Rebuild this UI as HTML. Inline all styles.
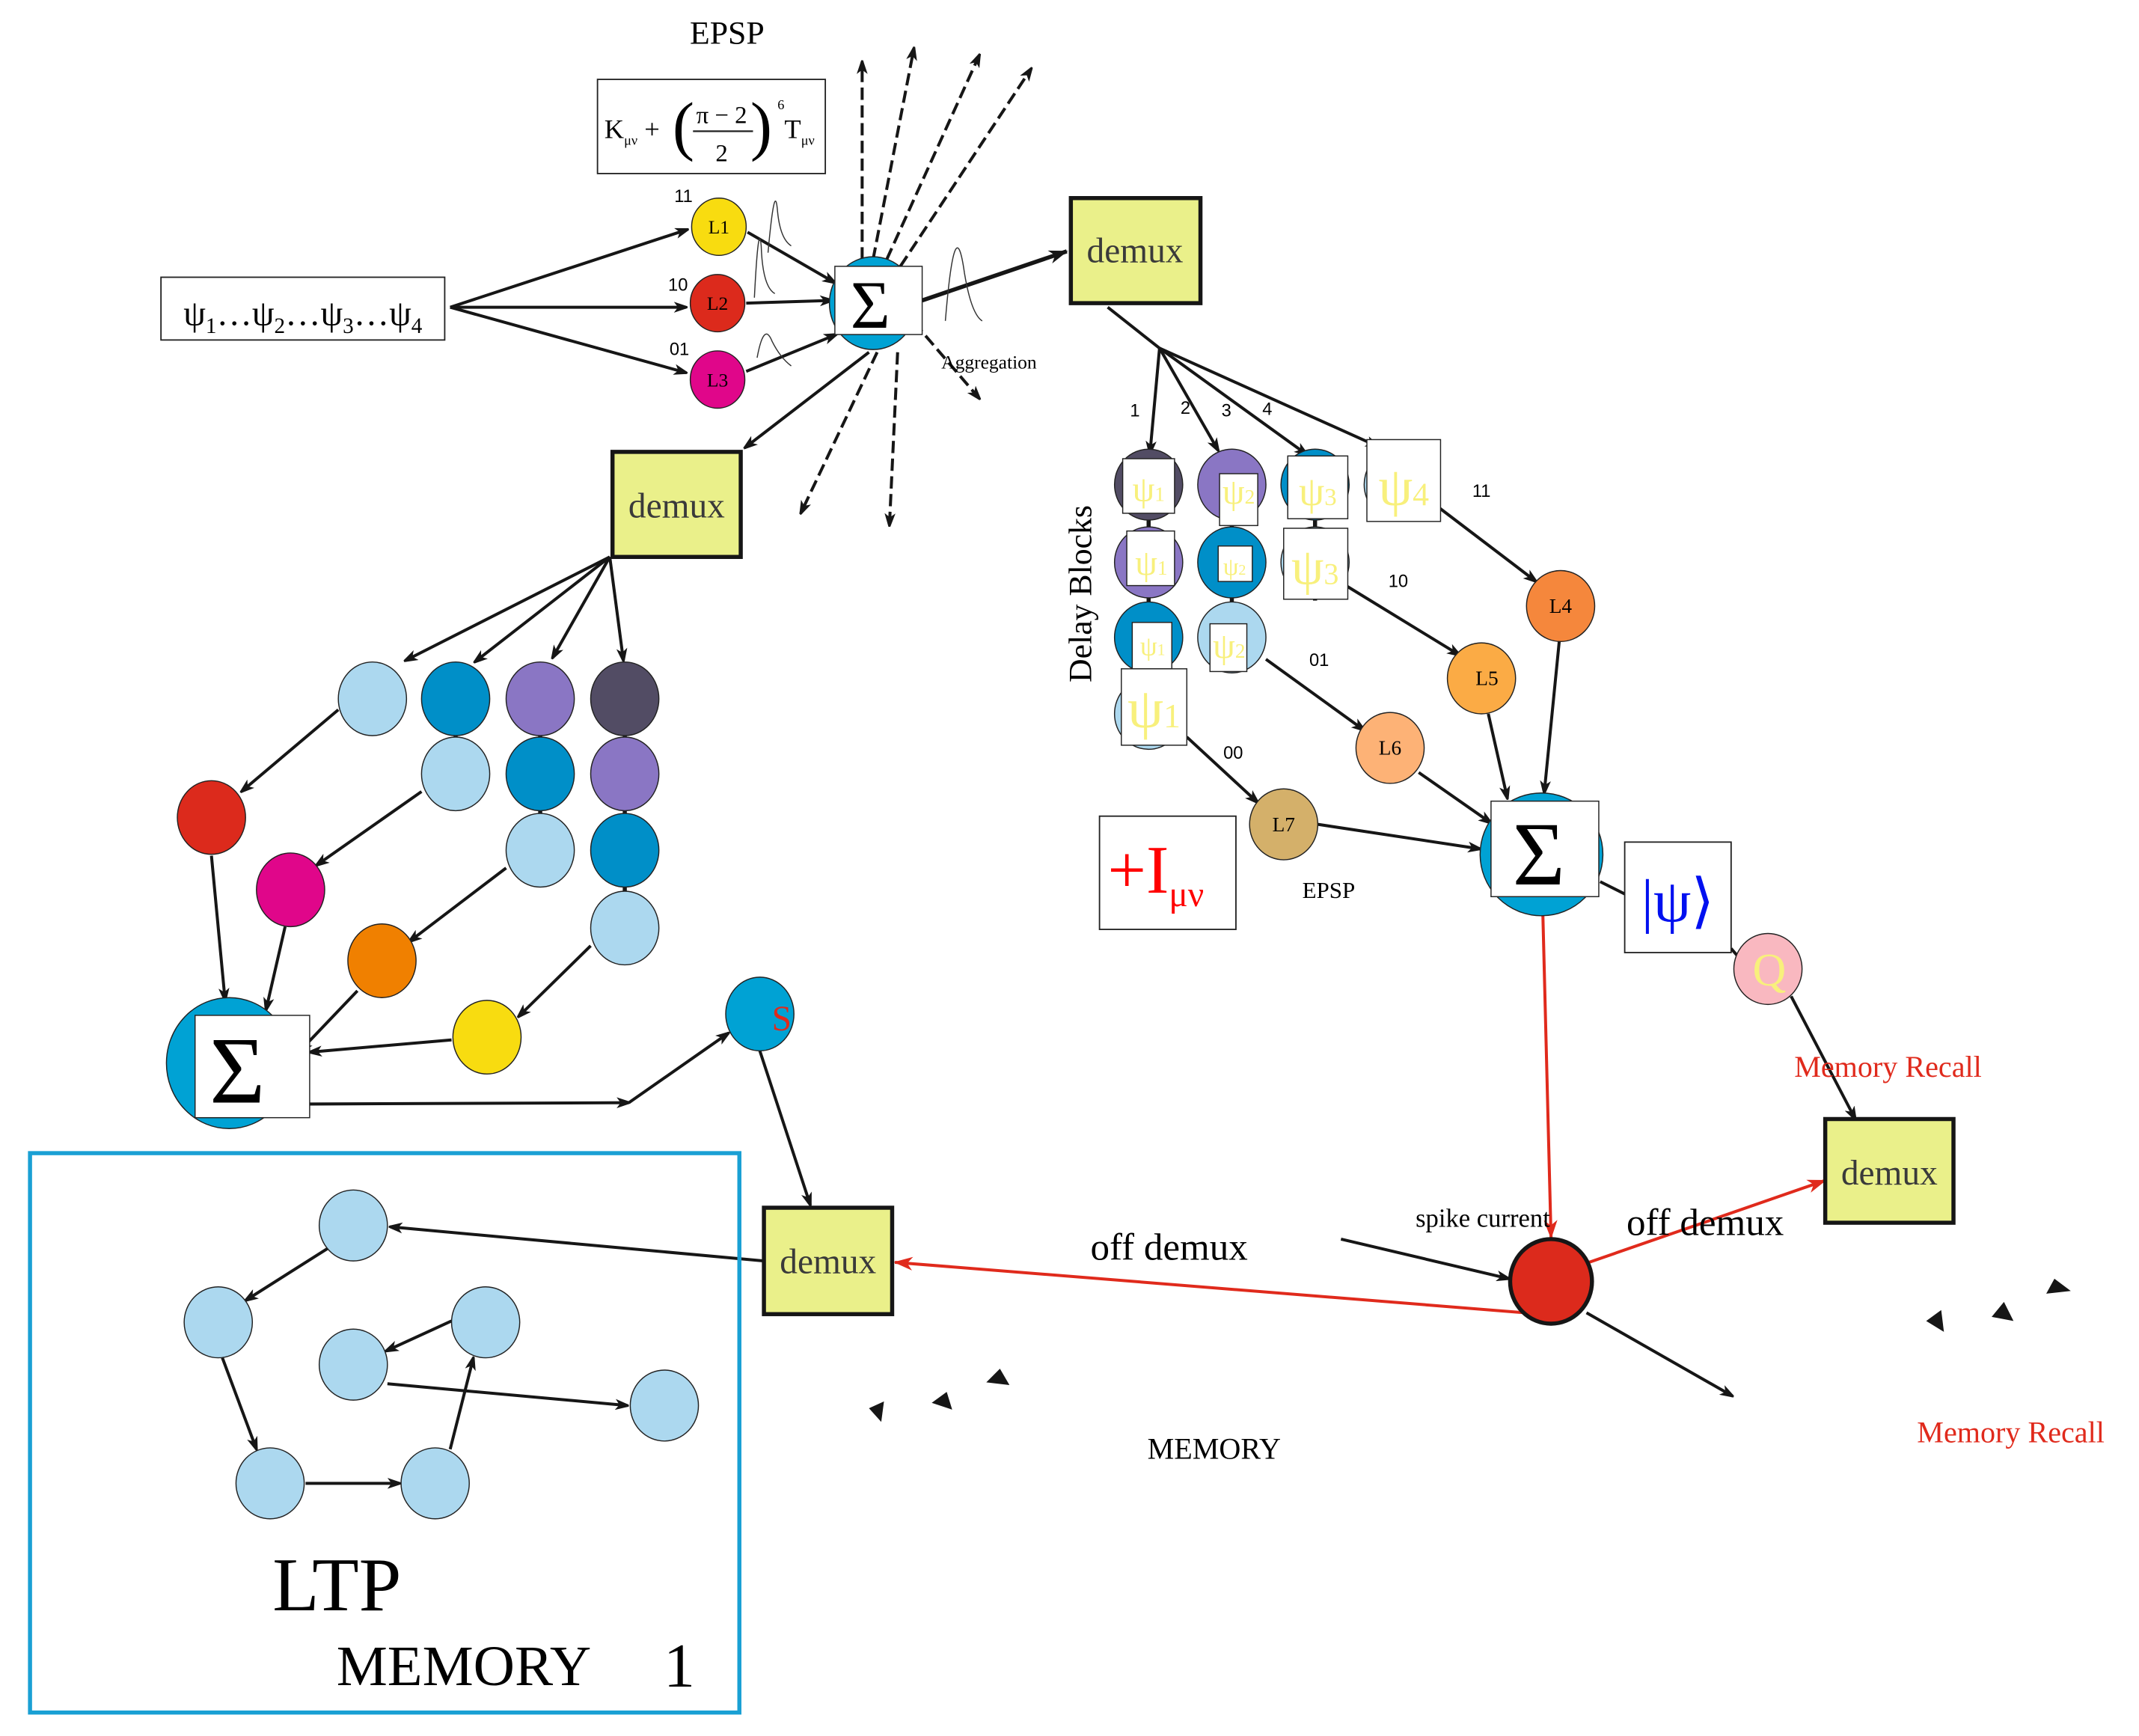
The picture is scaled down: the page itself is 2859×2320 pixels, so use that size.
<!DOCTYPE html>
<html><head><meta charset="utf-8"><style>
html,body{margin:0;padding:0;background:#fff}
svg{display:block}
text{font-family:"Liberation Serif",serif}
.s{font-family:"Liberation Sans",sans-serif}
</style></head><body>
<svg width="2859" height="2320" viewBox="0 0 1568 1272" xmlns="http://www.w3.org/2000/svg">
<defs>
<marker id="a" markerWidth="10" markerHeight="8" refX="9" refY="4" orient="auto" markerUnits="userSpaceOnUse"><path d="M0,0 L12,4 L0,8 L3,4z" fill="#161616"/></marker>
<marker id="b" markerWidth="14" markerHeight="10" refX="13" refY="5" orient="auto" markerUnits="userSpaceOnUse"><path d="M0,0 L14,5 L0,10 L4,5z" fill="#161616"/></marker>
<marker id="r" markerWidth="14" markerHeight="10" refX="13" refY="5" orient="auto" markerUnits="userSpaceOnUse"><path d="M0,0 L14,5 L0,10 L4,5z" fill="#e02a1c"/></marker>
</defs>
<g stroke="#161616" stroke-width="2.2" fill="none">
<line x1="330" y1="225" x2="504" y2="168" marker-end="url(#a)"/>
<line x1="330" y1="225" x2="503" y2="225" marker-end="url(#a)"/>
<line x1="330" y1="225" x2="503" y2="273" marker-end="url(#a)"/>
<line x1="548" y1="170" x2="612" y2="207" marker-end="url(#a)"/>
<line x1="547" y1="222" x2="610" y2="220" marker-end="url(#a)"/>
<line x1="547" y1="272" x2="613" y2="245" marker-end="url(#a)"/>
<g stroke-dasharray="9,4">
<line x1="632" y1="190" x2="632" y2="45" marker-end="url(#a)"/>
<line x1="640" y1="190" x2="670" y2="35" marker-end="url(#a)"/>
<line x1="650" y1="190" x2="718" y2="40" marker-end="url(#a)"/>
<line x1="660" y1="195" x2="756" y2="50" marker-end="url(#a)"/>
<line x1="670" y1="236" x2="718" y2="292" marker-end="url(#a)"/>
<line x1="643" y1="258" x2="587" y2="376" marker-end="url(#a)"/>
<line x1="658" y1="258" x2="652" y2="385" marker-end="url(#a)"/>
</g>
<line x1="676" y1="220" x2="782" y2="184" marker-end="url(#b)" stroke-width="3"/>
<line x1="637" y1="258" x2="546" y2="328" marker-end="url(#a)"/>
<line x1="812" y1="225" x2="850" y2="255"/>
<line x1="850" y1="255" x2="843" y2="332" marker-end="url(#a)"/>
<line x1="850" y1="255" x2="893" y2="330" marker-end="url(#a)"/>
<line x1="850" y1="255" x2="958" y2="333" marker-end="url(#a)"/>
<line x1="850" y1="255" x2="1010" y2="327" marker-end="url(#a)"/>
<line x1="1055" y1="372" x2="1126" y2="426" marker-end="url(#a)"/>
<line x1="985" y1="428" x2="1070" y2="480" marker-end="url(#a)"/>
<line x1="928" y1="483" x2="1000" y2="535" marker-end="url(#a)"/>
<line x1="870" y1="540" x2="922" y2="588" marker-end="url(#a)"/>
<line x1="1143" y1="470" x2="1132" y2="581" marker-end="url(#a)"/>
<line x1="1091" y1="523" x2="1105" y2="585" marker-end="url(#a)"/>
<line x1="1040" y1="566" x2="1093" y2="603" marker-end="url(#a)"/>
<line x1="966" y1="604" x2="1085" y2="622" marker-end="url(#a)"/>
<line x1="1173" y1="646" x2="1191" y2="655"/>
<line x1="1269" y1="695" x2="1275" y2="702"/>
<line x1="1313" y1="730" x2="1360" y2="820" marker-end="url(#a)"/>
<line x1="447" y1="408" x2="297" y2="484" marker-end="url(#a)"/>
<line x1="447" y1="408" x2="348" y2="485" marker-end="url(#a)"/>
<line x1="447" y1="408" x2="405" y2="482" marker-end="url(#a)"/>
<line x1="447" y1="408" x2="457" y2="484" marker-end="url(#a)"/>
<line x1="248" y1="520" x2="177" y2="580" marker-end="url(#a)"/>
<line x1="309" y1="580" x2="232" y2="634" marker-end="url(#a)"/>
<line x1="371" y1="636" x2="300" y2="690" marker-end="url(#a)"/>
<line x1="433" y1="693" x2="380" y2="745" marker-end="url(#a)"/>
<line x1="155" y1="627" x2="165" y2="733" marker-end="url(#a)"/>
<line x1="209" y1="679" x2="195" y2="740" marker-end="url(#a)"/>
<line x1="262" y1="726" x2="220" y2="770" marker-end="url(#a)"/>
<line x1="331" y1="762" x2="227" y2="771" marker-end="url(#a)"/>
<line x1="227" y1="809" x2="461" y2="808" marker-end="url(#a)"/>
<line x1="461" y1="808" x2="534" y2="757" marker-end="url(#a)"/>
<line x1="557" y1="770" x2="594" y2="883" marker-end="url(#a)"/>
<line x1="560" y1="924" x2="286" y2="899" marker-end="url(#a)"/>
<line x1="240" y1="915" x2="180" y2="953" marker-end="url(#a)"/>
<line x1="163" y1="995" x2="188" y2="1062" marker-end="url(#a)"/>
<line x1="224" y1="1087" x2="293" y2="1087" marker-end="url(#a)"/>
<line x1="330" y1="1062" x2="347" y2="995" marker-end="url(#a)"/>
<line x1="331" y1="968" x2="283" y2="990" marker-end="url(#a)"/>
<line x1="284" y1="1014" x2="460" y2="1030" marker-end="url(#a)"/>
<line x1="983" y1="908" x2="1106" y2="937" marker-end="url(#a)"/>
<line x1="1163" y1="962" x2="1270" y2="1023" marker-end="url(#a)"/>
</g>
<g stroke="#e02a1c" stroke-width="2.2" fill="none">
<line x1="1131" y1="670" x2="1137" y2="907" marker-end="url(#r)"/>
<line x1="1162" y1="926" x2="1338" y2="865" marker-end="url(#r)"/>
<line x1="1118" y1="962" x2="656" y2="925" marker-end="url(#r)"/>
</g>
<g stroke="#333" stroke-width="0.8" fill="none">
<path d="M563,185 Q568,130 570,155 Q572,175 580,180"/>
<path d="M553,218 Q556,160 558,180 Q559,210 568,215"/>
<path d="M555,262 Q560,235 566,250 Q572,262 580,268"/>
<path d="M693,235 Q700,150 707,200 Q712,230 720,235"/>
</g>
<rect x="118" y="203" width="208" height="46" fill="#fff" stroke="#222" stroke-width="1"/>
<text x="222" y="238" font-size="26" text-anchor="middle">ψ<tspan font-size="16" dy="6">1</tspan><tspan dy="-6">…ψ</tspan><tspan font-size="16" dy="6">2</tspan><tspan dy="-6">…ψ</tspan><tspan font-size="16" dy="6">3</tspan><tspan dy="-6">…ψ</tspan><tspan font-size="16" dy="6">4</tspan></text>
<text x="533" y="32" font-size="24" text-anchor="middle">EPSP</text>
<rect x="438" y="58" width="167" height="69" fill="#fff" stroke="#222" stroke-width="1"/>
<text x="443" y="101" font-size="20">K<tspan font-size="10" dy="5">μν</tspan><tspan dy="-5"> +</tspan></text>
<text x="493" y="108" font-size="48" font-weight="100">(</text>
<text x="529" y="90" font-size="18" text-anchor="middle">π − 2</text>
<line x1="508" y1="96" x2="552" y2="96" stroke="#222" stroke-width="1.2"/>
<text x="529" y="118" font-size="18" text-anchor="middle">2</text>
<text x="550" y="108" font-size="48">)</text>
<text x="570" y="80" font-size="10">6</text>
<text x="575" y="101" font-size="20">T<tspan font-size="10" dy="5">μν</tspan></text>
<g stroke="#222" stroke-width="0.8">
<ellipse cx="527" cy="166" rx="20" ry="21" fill="#f8dc10"/>
<ellipse cx="526" cy="222" rx="20" ry="21" fill="#dc2a1c"/>
<ellipse cx="526" cy="278" rx="20" ry="21" fill="#e0068a"/>
</g>
<text x="527" y="171" font-size="14" text-anchor="middle">L1</text>
<text x="526" y="227" font-size="14" text-anchor="middle">L2</text>
<text x="526" y="283" font-size="14" text-anchor="middle">L3</text>
<text class="s" x="501" y="148" font-size="13" text-anchor="middle">11</text>
<text class="s" x="497" y="213" font-size="13" text-anchor="middle">10</text>
<text class="s" x="498" y="260" font-size="13" text-anchor="middle">01</text>
<ellipse cx="640" cy="222" rx="32" ry="34" fill="#00a2d4" stroke="#222" stroke-width="0.8"/>
<rect x="612" y="195" width="64" height="50" fill="#fff" stroke="#222" stroke-width="0.8"/>
<text x="638" y="240" font-size="50" text-anchor="middle">Σ</text>
<text x="725" y="270" font-size="14" text-anchor="middle">Aggregation</text>
<g stroke="#161616" stroke-width="3" fill="#eaf08a">
<rect x="785" y="145" width="95" height="77"/>
<rect x="449" y="331" width="94" height="77"/>
<rect x="1338" y="820" width="94" height="76"/>
<rect x="560" y="885" width="94" height="78"/>
</g>
<g font-size="26" fill="#3a3a3a" text-anchor="middle">
<text x="832" y="192">demux</text>
<text x="496" y="379">demux</text>
<text x="1385" y="868">demux</text>
<text x="607" y="933">demux</text>
</g>
<text x="800" y="435" font-size="24" text-anchor="middle" transform="rotate(-90 800 435)">Delay Blocks</text>
<g stroke="#161616" stroke-width="3">
<line x1="842" y1="380" x2="842" y2="500"/><line x1="903" y1="380" x2="903" y2="445"/><line x1="964" y1="380" x2="964" y2="440"/>
</g>
<g stroke="#222" stroke-width="0.8">
<ellipse cx="842" cy="355" rx="25" ry="26" fill="#524c64"/>
<ellipse cx="842" cy="412" rx="25" ry="26" fill="#8a76c4"/>
<ellipse cx="842" cy="467" rx="25" ry="26" fill="#008fc8"/>
<ellipse cx="842" cy="523" rx="25" ry="26" fill="#acd8ef"/>
<ellipse cx="903" cy="355" rx="25" ry="26" fill="#8a76c4"/>
<ellipse cx="903" cy="412" rx="25" ry="26" fill="#008fc8"/>
<ellipse cx="903" cy="467" rx="25" ry="26" fill="#acd8ef"/>
<ellipse cx="964" cy="355" rx="25" ry="26" fill="#008fc8"/>
<ellipse cx="964" cy="412" rx="25" ry="26" fill="#acd8ef"/>
<ellipse cx="1025" cy="355" rx="25" ry="26" fill="#acd8ef"/>
</g>
<g fill="#fff" stroke="#222" stroke-width="0.8">
<rect x="823" y="336" width="38" height="40"/>
<rect x="894" y="347" width="28" height="38"/>
<rect x="944" y="334" width="44" height="46"/>
<rect x="1002" y="322" width="54" height="60"/>
<rect x="826" y="389" width="35" height="40"/>
<rect x="893" y="400" width="25" height="26"/>
<rect x="941" y="387" width="47" height="52"/>
<rect x="830" y="456" width="29" height="34"/>
<rect x="887" y="457" width="27" height="35"/>
<rect x="822" y="490" width="48" height="56"/>
</g>
<g fill="#f8f07c" text-anchor="middle">
<text x="842" y="367" font-size="26">ψ<tspan font-size="15">1</tspan></text>
<text x="908" y="369" font-size="26">ψ<tspan font-size="15">2</tspan></text>
<text x="966" y="370" font-size="30">ψ<tspan font-size="18">3</tspan></text>
<text x="1029" y="370" font-size="40">ψ<tspan font-size="24">4</tspan></text>
<text x="844" y="421" font-size="26">ψ<tspan font-size="15">1</tspan></text>
<text x="905" y="421" font-size="18">ψ<tspan font-size="11">2</tspan></text>
<text x="964" y="428" font-size="38">ψ<tspan font-size="22">3</tspan></text>
<text x="845" y="480" font-size="20">ψ<tspan font-size="12">1</tspan></text>
<text x="901" y="482" font-size="26">ψ<tspan font-size="15">2</tspan></text>
<text x="846" y="533" font-size="42">ψ<tspan font-size="25">1</tspan></text>
</g>
<g class="s" font-size="13" text-anchor="middle">
<text class="s" x="832" y="305">1</text><text class="s" x="869" y="303">2</text><text class="s" x="899" y="305">3</text><text class="s" x="929" y="304">4</text>
<text class="s" x="1086" y="364">11</text><text class="s" x="1025" y="430">10</text><text class="s" x="967" y="488">01</text><text class="s" x="904" y="556">00</text>
</g>
<g stroke="#222" stroke-width="0.8">
<ellipse cx="1144" cy="444" rx="25" ry="26" fill="#f5873c"/>
<ellipse cx="1086" cy="497" rx="25" ry="26" fill="#fbab45"/>
<ellipse cx="1019" cy="548" rx="25" ry="26" fill="#fdb276"/>
<ellipse cx="941" cy="604" rx="25" ry="26" fill="#d4b06a"/>
</g>
<g font-size="15" text-anchor="middle">
<text x="1144" y="449">L4</text><text x="1090" y="502">L5</text><text x="1019" y="553">L6</text><text x="941" y="609">L7</text>
</g>
<ellipse cx="1130" cy="626" rx="45" ry="45" fill="#00a2d4" stroke="#222" stroke-width="0.8"/>
<rect x="1093" y="587" width="79" height="70" fill="#fff" stroke="#222" stroke-width="0.8"/>
<text x="1128" y="648" font-size="66" text-anchor="middle">Σ</text>
<rect x="806" y="598" width="100" height="83" fill="#fff" stroke="#222" stroke-width="1"/>
<text x="812" y="654" font-size="50" fill="#f00">+I<tspan font-size="26" dy="10">μν</tspan></text>
<text x="974" y="658" font-size="17" text-anchor="middle">EPSP</text>
<rect x="1191" y="617" width="78" height="81" fill="#fff" stroke="#222" stroke-width="1"/>
<text x="1230" y="675" font-size="44" fill="#0010f0" text-anchor="middle">|ψ⟩</text>
<ellipse cx="1296" cy="710" rx="25" ry="26" fill="#f9b8c0" stroke="#222" stroke-width="0.8"/>
<text x="1297" y="722" font-size="34" fill="#f8f07c" text-anchor="middle">Q</text>
<text x="1384" y="789" font-size="22" fill="#e02a1c" text-anchor="middle">Memory Recall</text>
<text x="1474" y="1057" font-size="22" fill="#e02a1c" text-anchor="middle">Memory Recall</text>
<text x="1087" y="899" font-size="19" text-anchor="middle">spike current</text>
<text x="1250" y="905" font-size="28" text-anchor="middle">off demux</text>
<text x="857" y="923" font-size="28" text-anchor="middle">off demux</text>
<text x="890" y="1069" font-size="22" text-anchor="middle">MEMORY</text>
<ellipse cx="1137" cy="939" rx="30" ry="31" fill="#dc2a1c" stroke="#161616" stroke-width="3"/>
<g fill="#161616">
<path d="M637,1032 L648,1027 L646,1042z"/><path d="M683,1028 L694,1020 L698,1033z"/><path d="M723,1013 L733,1003 L740,1015z"/>
<path d="M1412,968 L1423,960 L1425,976z"/><path d="M1460,965 L1469,954 L1476,968z"/><path d="M1500,948 L1506,937 L1518,946z"/>
</g>
<g stroke="#222" stroke-width="0.8">
<g stroke="#161616" stroke-width="3"><line x1="334" y1="535" x2="334" y2="545"/><line x1="396" y1="535" x2="396" y2="600"/><line x1="458" y1="535" x2="458" y2="657"/></g>
<ellipse cx="273" cy="512" rx="25" ry="27" fill="#acd8ef"/>
<ellipse cx="334" cy="512" rx="25" ry="27" fill="#008fc8"/>
<ellipse cx="334" cy="567" rx="25" ry="27" fill="#acd8ef"/>
<ellipse cx="396" cy="512" rx="25" ry="27" fill="#8a76c4"/>
<ellipse cx="396" cy="567" rx="25" ry="27" fill="#008fc8"/>
<ellipse cx="396" cy="623" rx="25" ry="27" fill="#acd8ef"/>
<ellipse cx="458" cy="512" rx="25" ry="27" fill="#524c64"/>
<ellipse cx="458" cy="567" rx="25" ry="27" fill="#8a76c4"/>
<ellipse cx="458" cy="623" rx="25" ry="27" fill="#008fc8"/>
<ellipse cx="458" cy="680" rx="25" ry="27" fill="#acd8ef"/>
<ellipse cx="155" cy="599" rx="25" ry="27" fill="#dc2a1c"/>
<ellipse cx="213" cy="652" rx="25" ry="27" fill="#e0068a"/>
<ellipse cx="280" cy="704" rx="25" ry="27" fill="#f08000"/>
<ellipse cx="357" cy="760" rx="25" ry="27" fill="#f8dc10"/>
<ellipse cx="168" cy="779" rx="46" ry="48" fill="#00a2d4"/>
<ellipse cx="557" cy="743" rx="25" ry="27" fill="#00a2d4"/>
</g>
<rect x="143" y="744" width="84" height="75" fill="#fff" stroke="#222" stroke-width="0.8"/>
<text x="174" y="808" font-size="70" text-anchor="middle">Σ</text>
<text x="573" y="755" font-size="26" fill="#e02a1c" text-anchor="middle">S</text>
<rect x="22" y="845" width="520" height="410" fill="none" stroke="#1aa0d4" stroke-width="3"/>
<g stroke="#222" stroke-width="0.8" fill="#acd8ef">
<ellipse cx="259" cy="898" rx="25" ry="26"/><ellipse cx="160" cy="969" rx="25" ry="26"/><ellipse cx="356" cy="969" rx="25" ry="26"/>
<ellipse cx="259" cy="1000" rx="25" ry="26"/><ellipse cx="487" cy="1030" rx="25" ry="26"/><ellipse cx="198" cy="1087" rx="25" ry="26"/><ellipse cx="319" cy="1087" rx="25" ry="26"/>
</g>
<text x="247" y="1180" font-size="56" text-anchor="middle">LTP</text>
<text x="340" y="1235" font-size="42" text-anchor="middle">MEMORY</text>
<text x="498" y="1236" font-size="46" text-anchor="middle">1</text>
</svg>
</body></html>
